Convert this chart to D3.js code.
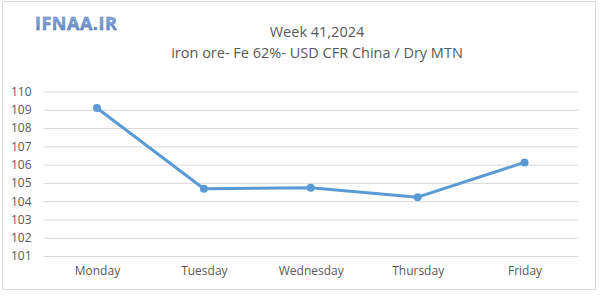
<!DOCTYPE html>
<html>
<head>
<meta charset="utf-8">
<script src="https://cdn.jsdelivr.net/npm/d3@7"></script>
<style>
  body { margin: 0; background: #fff; }
  text { font-family: "Open Sans", sans-serif; }
</style>
</head>
<body>
<div id="chart"></div>
<script>
const days = ['Monday', 'Tuesday', 'Wednesday', 'Thursday', 'Friday']
const prices = [109.1, 104.68, 104.74, 104.22, 106.12]
const yTicks = [101, 102, 103, 104, 105, 106, 107, 108, 109, 110]
const titleLines = ['Week 41,2024', 'iron ore- Fe 62%- USD CFR China / Dry MTN']

const width = 600, height = 301
const margin = {left: 43.5, right: 22, top: 91.5, bottom: 45}

let svg = d3.select('#chart').append('svg')
.attr('width', width)
.attr('height', height)

// outer frame of the chart
svg.append('rect')
.attr('x', 2.5).attr('y', 1.5)
.attr('width', 593).attr('height', 288)
.attr('fill', '#fff')
.attr('stroke', '#d9d9d9')

let xScale = d3.scalePoint()
.domain(days)
.range([margin.left, width - margin.right])
.padding(0.5)

let yScale = d3.scaleLinear()
.domain([101, 110])
.range([height - margin.bottom, margin.top])

let axis = svg.append('g')

axis.append('g')
.attr('class', 'yaxis')
.attr('transform', `translate(${margin.left},0)`)
.call(d3.axisLeft(yScale)
  .tickValues(yTicks)
  .tickSize(-(width - margin.left - margin.right))
  .tickPadding(12)
  .tickFormat(d3.format('d')))
.call(g => g.select('.domain').remove())
.call(g => g.selectAll('line').attr('stroke', '#d9d9d9'))
.call(g => g.selectAll('text').attr('fill', '#595959').style('font-size', '12px'))

axis.append('g')
.attr('class', 'xaxis')
.attr('transform', `translate(0,${height - margin.bottom})`)
.call(d3.axisBottom(xScale).tickSize(0).tickPadding(10))
.call(g => g.select('.domain').remove())
.call(g => g.selectAll('text').attr('fill', '#595959').style('font-size', '12px'))

const line = d3.line()
.x((d, i) => xScale(days[i]))
.y(d => yScale(d))

svg.append('path')
.datum(prices)
.attr('d', line)
.attr('fill', 'none')
.attr('stroke', '#5b9bd5')
.attr('stroke-width', 3)
.attr('stroke-linejoin', 'round')

svg.append('g')
.selectAll('circle')
.data(prices)
.join('circle')
.attr('cx', (d, i) => xScale(days[i]))
.attr('cy', d => yScale(d))
.attr('r', 4)
.attr('fill', '#5b9bd5')

// title
svg.append('g')
.selectAll('text')
.data(titleLines)
.join('text')
.attr('x', 317)
.attr('y', (d, i) => 37 + i * 21)
.attr('text-anchor', 'middle')
.attr('fill', '#595959')
.style('font-size', '14.5px')
.text(d => d)

// site logo
let defs = svg.append('defs')
let grad = defs.append('linearGradient')
.attr('id', 'logoGrad')
.attr('x1', 0).attr('y1', 0).attr('x2', 0).attr('y2', 1)
grad.append('stop').attr('offset', '0%').attr('stop-color', '#9ab8e6')
grad.append('stop').attr('offset', '100%').attr('stop-color', '#5a80c0')

svg.append('text')
.attr('x', 35)
.attr('y', 30)
.attr('fill', 'url(#logoGrad)')
.attr('stroke', '#4a70b0')
.attr('stroke-width', 0.4)
.style('font-size', '18px')
.style('font-weight', 'bold')
.style('letter-spacing', '0.5px')
.text('IFNAA.IR')
</script>
</body>
</html>
